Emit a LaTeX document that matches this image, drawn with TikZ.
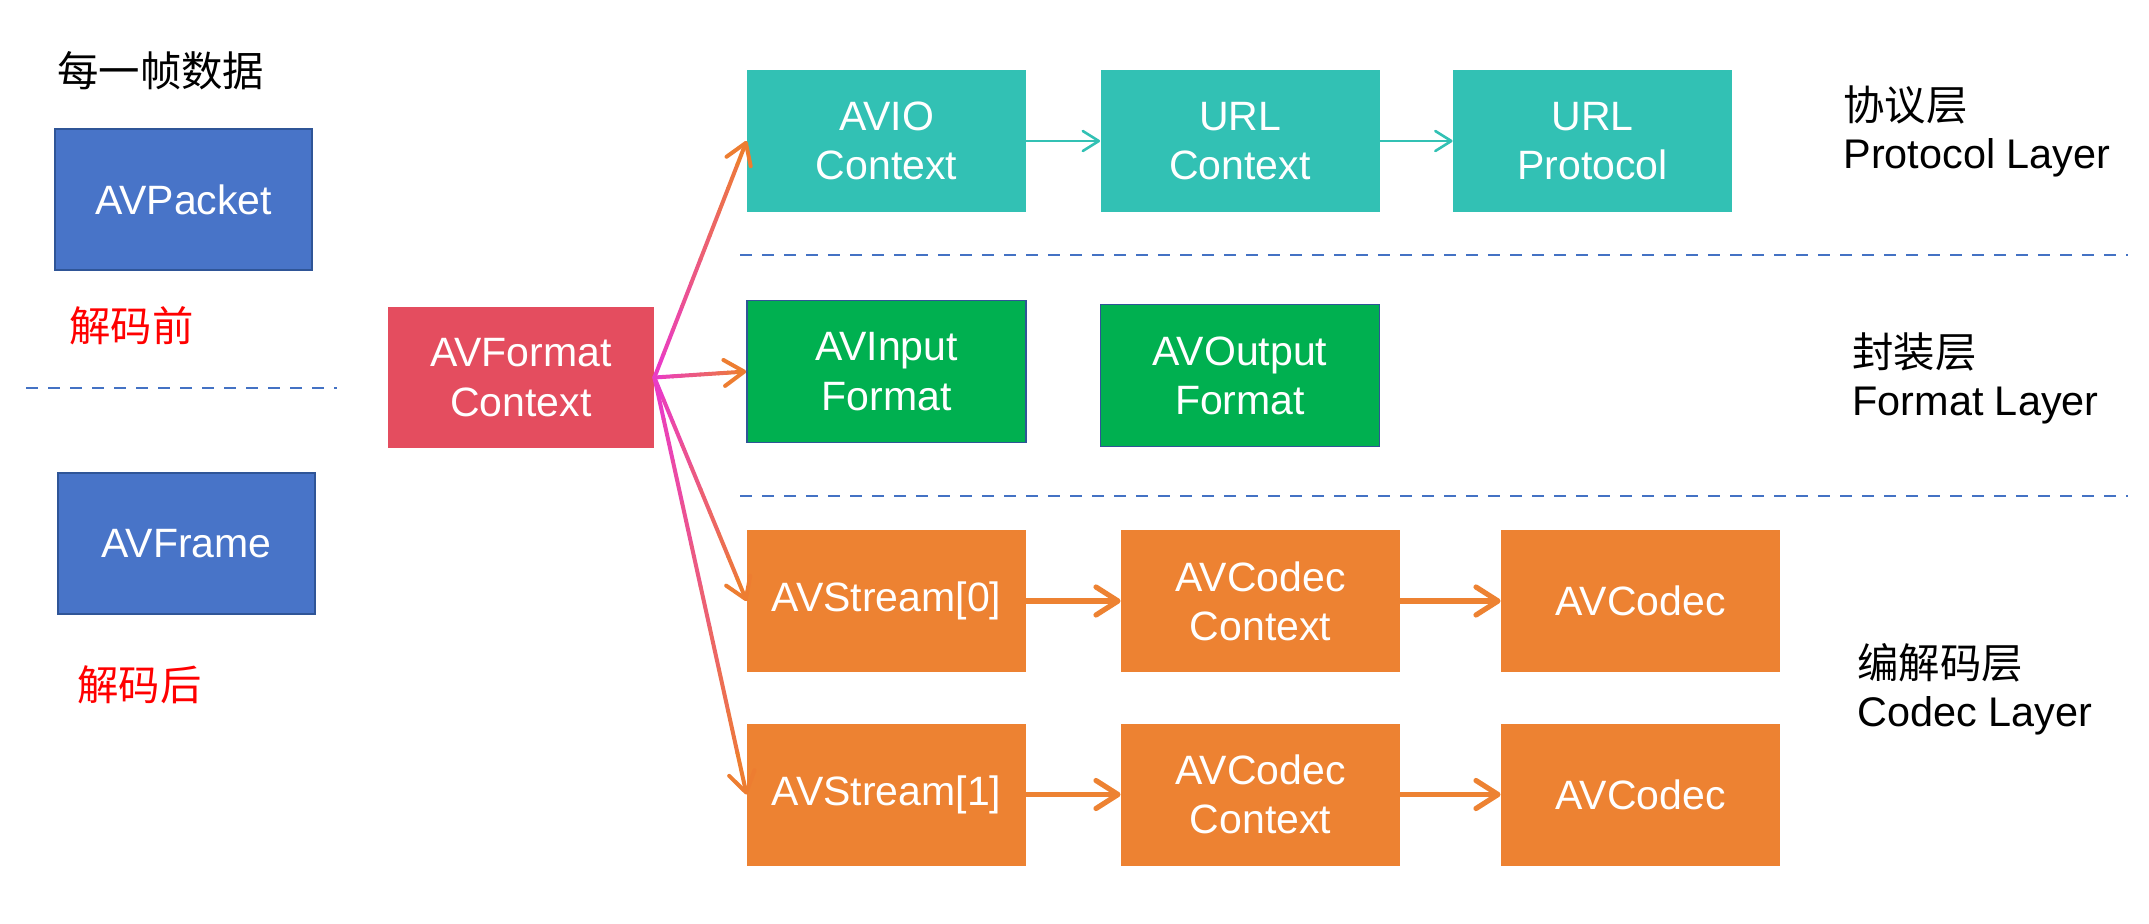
\documentclass[tikz,border=0pt]{standalone}
\usepackage{fontspec}
\setmainfont{Liberation Sans}
\newfontfamily\cjk{Noto Sans CJK SC}
\usetikzlibrary{arrows.meta,calc}

\definecolor{protocolcol}{HTML}{32C1B4}
\definecolor{formatcol}{HTML}{00B050}
\definecolor{codeccol}{HTML}{ED8232}
\definecolor{framecol}{HTML}{4874C8}
\definecolor{frameline}{HTML}{2F5597}
\definecolor{ctxcol}{HTML}{E44D5F}
\definecolor{dashcol}{HTML}{4472C4}
\definecolor{fanstart}{HTML}{EA3CC4}
\definecolor{fanend}{HTML}{ED7D31}

\newcommand\boxfont{\fontsize{20.5}{24.6}\selectfont}
\newcommand\labelfont{\fontsize{20.7}{24}\selectfont}

\tikzset{
  box/.style={minimum width=139.5pt, minimum height=71pt, inner sep=0pt,
    align=center, text=white, font=\boxfont},
  protocolbox/.style={box, fill=protocolcol},
  formatbox/.style={box, fill=formatcol, draw=frameline, line width=0.8pt},
  codecbox/.style={box, fill=codeccol},
  framebox/.style={box, fill=framecol, draw=frameline, line width=0.8pt,
    minimum width=128.5pt, minimum height=70.5pt},
  layerlabel/.style={anchor=west, align=left, inner sep=0pt, font=\labelfont},
  redlabel/.style={anchor=west, inner sep=0pt, text=red, font=\labelfont\cjk},
  sepline/.style={draw=dashcol, line width=1pt, dash pattern=on 6pt off 5pt},
  thinarrow/.style={draw=protocolcol, line width=1.3pt,
    -{Straight Barb[length=8pt, width=10pt, round]}},
  thickarrow/.style={draw=codeccol, line width=2.6pt,
    -{Straight Barb[length=11pt, width=14pt, round]}},
  fanline/.style={line width=2pt, line cap=round}
}

\begin{document}
\begin{tikzpicture}[x=0.5pt, y=-0.5pt]
  \useasboundingbox (0,0) rectangle (2149,923);

  % frame data
  \node[layerlabel, font=\labelfont\cjk] (title) at (57,71) {每一帧数据};
  \node[framebox] (packet) at (183.5,199.5) {AVPacket};
  \node[redlabel] (before) at (69,326) {解码前};
  \draw[sepline] (26,388) -- (337,388);
  \node[framebox] (frame) at (186.5,543.5) {AVFrame};
  \node[redlabel] (after) at (77,685) {解码后};

  \node[box, fill=ctxcol, minimum width=133pt, minimum height=70.5pt] (fmt) at (521,377.5) {AVFormat\\Context};

  % protocol layer
  \node[protocolbox] (avio) at (886.5,141) {AVIO\\Context};
  \node[protocolbox] (urlctx) at (1240,141) {URL\\Context};
  \node[protocolbox] (urlproto) at (1592.5,141) {URL\\Protocol};
  \draw[thinarrow] (avio) -- (urlctx);
  \draw[thinarrow] (urlctx) -- (urlproto);

  \draw[sepline] (740,255) -- (2128,255);

  % format layer
  \node[formatbox] (avin) at (886.5,371.5) {AVInput\\Format};
  \node[formatbox] (avout) at (1240,375.5) {AVOutput\\Format};

  \draw[sepline] (740,496) -- (2128,496);

  % codec layer
  \node[codecbox] (s0) at (886.5,601) {AVStream[0]};
  \node[codecbox] (cc0) at (1260.5,601) {AVCodec\\Context};
  \node[codecbox] (c0) at (1640.5,601) {AVCodec};
  \node[codecbox] (s1) at (886.5,794.5) {AVStream[1]};
  \node[codecbox] (cc1) at (1260.5,794.5) {AVCodec\\Context};
  \node[codecbox] (c1) at (1640.5,794.5) {AVCodec};
  \draw[thickarrow] (s0) -- (cc0);
  \draw[thickarrow] (cc0) -- (c0);
  \draw[thickarrow] (s1) -- (cc1);
  \draw[thickarrow] (cc1) -- (c1);

  % layer names
  \node[layerlabel] (protocol) at (1843,131) {{\cjk 协议层}\\Protocol Layer};
  \node[layerlabel] (format) at (1852,378) {{\cjk 封装层}\\Format Layer};
  \node[layerlabel] (codec) at (1857,689) {{\cjk 编解码层}\\Codec Layer};

  % fan out of the format context, magenta to orange
  \foreach \dst in {avio,avin,s0,s1}{
    \foreach \k in {0,...,8}{
      \pgfmathsetmacro\ta{\k/10}
      \pgfmathsetmacro\tb{\k/10+0.1}
      \pgfmathtruncatemacro\mixpc{100-11*\k}
      \draw[fanline, draw=fanstart!\mixpc!fanend]
        ($(fmt.east)!\ta!(\dst.west)$) -- ($(fmt.east)!\tb!(\dst.west)$);
    }
    \draw[fanline, draw=fanend, -{Straight Barb[length=10pt, width=13pt, round]}]
      ($(fmt.east)!0.9!(\dst.west)$) -- (\dst.west);
  }
\end{tikzpicture}
\end{document}
